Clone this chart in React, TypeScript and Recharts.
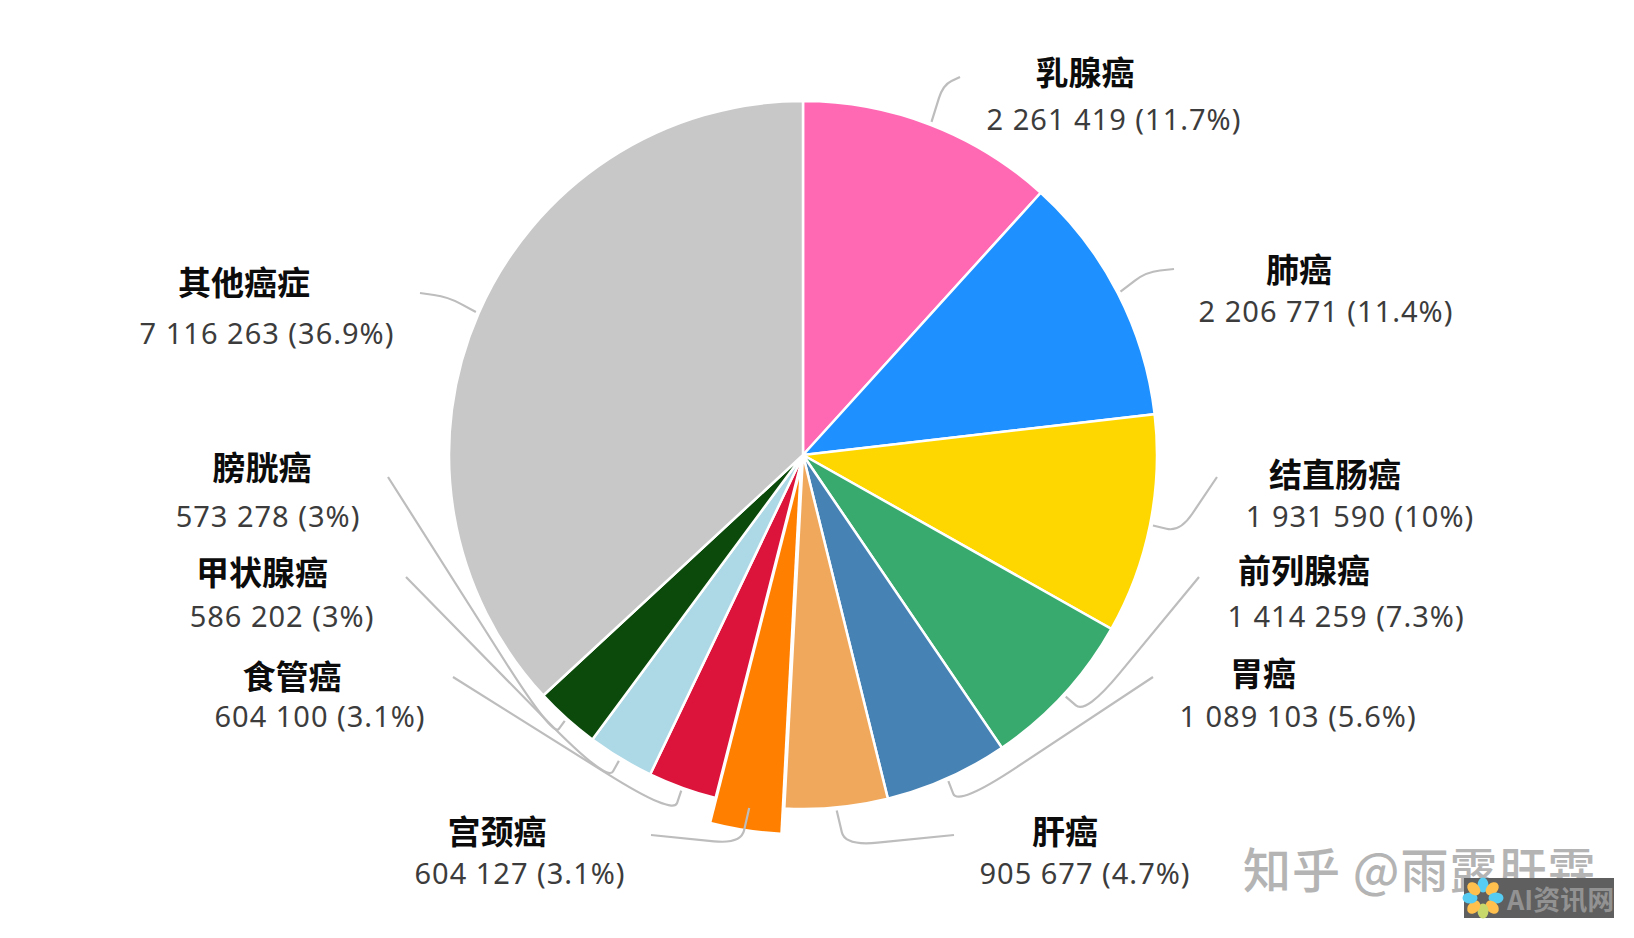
import React from 'react';
import { PieChart, Pie, Cell } from 'recharts';

const CATEGORIES = ['乳腺癌', '肺癌', '结直肠癌', '前列腺癌', '胃癌', '肝癌', '宫颈癌', '食管癌', '甲状腺癌', '膀胱癌', '其他癌症'];
const VALUES = [2261419, 2206771, 1931590, 1414259, 1089103, 905677, 604127, 604100, 586202, 573278, 7116263];
const VALUE_LABELS = [
  '2 261 419 (11.7%)', '2 206 771 (11.4%)', '1 931 590 (10%)', '1 414 259 (7.3%)', '1 089 103 (5.6%)',
  '905 677 (4.7%)', '604 127 (3.1%)', '604 100 (3.1%)', '586 202 (3%)', '573 278 (3%)', '7 116 263 (36.9%)',
];
const COLORS = ['#FF69B4', '#1E90FF', '#FFD700', '#38AA6E', '#4682B4', '#F0A85C', '#FF7F00', '#DC143C', '#ADD8E6', '#0B4A0B', '#C8C8C8'];

const EXPLODED = 6; // 宫颈癌

// label layout: [name x, name y, value x, value y, elbow x, elbow y, end x, end y]
const LAYOUT = [
  [1085, 71, 1114, 118, 943, 85, 960, 77],
  [1299, 268, 1326, 310, 1146, 272, 1174, 269],
  [1335, 473, 1360, 515, 1180, 532, 1217, 477],
  [1304, 569, 1346, 615, 1086, 714, 1199, 577],
  [1263, 672, 1298, 715, 958, 806, 1153, 677],
  [1065, 830, 1085, 872, 845, 846, 954, 835],
  [497, 830, 520, 872, 741, 844, 651, 835],
  [292, 675, 320, 715, 673, 815, 453, 677],
  [262, 571, 282, 615, 607, 782, 406, 577],
  [262, 466, 268, 515, 553, 737, 388, 477],
  [244, 281, 267, 332, 448, 297, 420, 293],
];

const data = CATEGORIES.map((name, i) => ({ name, value: VALUES[i] }));

const CJK = '"Noto Sans CJK SC", sans-serif';
const SANS = '"Noto Sans", "Noto Sans CJK SC", sans-serif';

// rounded corner at the elbow, the long tail bends gradually like the original
function leaderPath(sx: number, sy: number, ex: number, ey: number, tx: number, ty: number) {
  const toward = (ax: number, ay: number, bx: number, by: number, d: number) => {
    const len = Math.hypot(bx - ax, by - ay) || 1;
    const k = Math.min(d, len / 2) / len;
    return [ax + (bx - ax) * k, ay + (by - ay) * k];
  };
  const tail = Math.hypot(tx - ex, ty - ey);
  const [ax, ay] = toward(ex, ey, sx, sy, 14);
  const [bx, by] = toward(ex, ey, tx, ty, Math.max(22, tail * 0.3));
  return `M${sx},${sy} L${ax},${ay} Q${ex},${ey} ${bx},${by} L${tx},${ty}`;
}

const renderLabel = (props: any) => {
  const { cx, cy, midAngle, outerRadius, index } = props;
  const [nx, ny, vx, vy, ex, ey, tx, ty] = LAYOUT[index];
  const rad = (-midAngle * Math.PI) / 180;
  const sx = cx + (outerRadius + 3) * Math.cos(rad);
  const sy = cy + (outerRadius + 3) * Math.sin(rad);
  return (
    <g key={index}>
      <path d={leaderPath(sx, sy, ex, ey, tx, ty)} fill="none" stroke="#bdbdbd" strokeWidth={2.2} />
      <text x={nx} y={ny} textAnchor="middle" dominantBaseline="central" fontFamily={CJK} fontWeight={700} fontSize={33} fill="#0c0c0c">
        {CATEGORIES[index]}
      </text>
      <text x={vx} y={vy} textAnchor="middle" dominantBaseline="central" fontFamily={SANS} fontSize={29} letterSpacing={1} fill="#3c3c3c">
        {VALUE_LABELS[index]}
      </text>
    </g>
  );
};

const PETALS = ['#56CCF2', '#FFC04D', '#56CCF2', '#FFC04D', '#C8D86A', '#FFC04D', '#56CCF2', '#FFC04D'];

export default function App() {
  return (
    <div style={{ position: 'fixed', left: 0, top: 0, width: 1634, height: 938, background: '#fff' }}>
      <PieChart width={1634} height={938} margin={{ top: 0, right: 0, bottom: 0, left: 0 }}>
        {/* pulled-out slice goes underneath so the leaders of the main pie stay on top */}
        <Pie
          data={data}
          dataKey="value"
          cx={799}
          cy={479}
          outerRadius={354}
          startAngle={90}
          endAngle={-270}
          label={false}
          labelLine={false}
          isAnimationActive={false}
        >
          {data.map((_, i) => (
            <Cell key={i} fill={i === EXPLODED ? COLORS[i] : 'none'} stroke="none" />
          ))}
        </Pie>
        <Pie
          data={data}
          dataKey="value"
          cx={803}
          cy={455}
          outerRadius={354}
          startAngle={90}
          endAngle={-270}
          label={renderLabel}
          labelLine={false}
          isAnimationActive={false}
        >
          {data.map((_, i) => (
            <Cell
              key={i}
              fill={i === EXPLODED ? 'none' : COLORS[i]}
              stroke={i === EXPLODED ? 'none' : '#fff'}
              strokeWidth={2.5}
            />
          ))}
        </Pie>
      </PieChart>
      <svg width={1634} height={938} style={{ position: 'absolute', left: 0, top: 0, pointerEvents: 'none' }}>
        <text x={1243} y={867} dominantBaseline="central" fontFamily={CJK} fontWeight={500} fontSize={48} letterSpacing={1} fill="#b4b4b4">
          知乎 @雨露肝霖
        </text>
        <rect x={1464} y={878} width={150} height={40} fill="#5f5f5f" />
        {PETALS.map((c, i) => (
          <ellipse
            key={i}
            cx={1483}
            cy={885}
            rx={5.5}
            ry={7.5}
            fill={c}
            transform={`rotate(${i * 45} 1483 898)`}
          />
        ))}
        <text x={1507} y={898} dominantBaseline="central" fontFamily={CJK} fontWeight={700} fontSize={27} fill="#929292">
          AI资讯网
        </text>
      </svg>
    </div>
  );
}
